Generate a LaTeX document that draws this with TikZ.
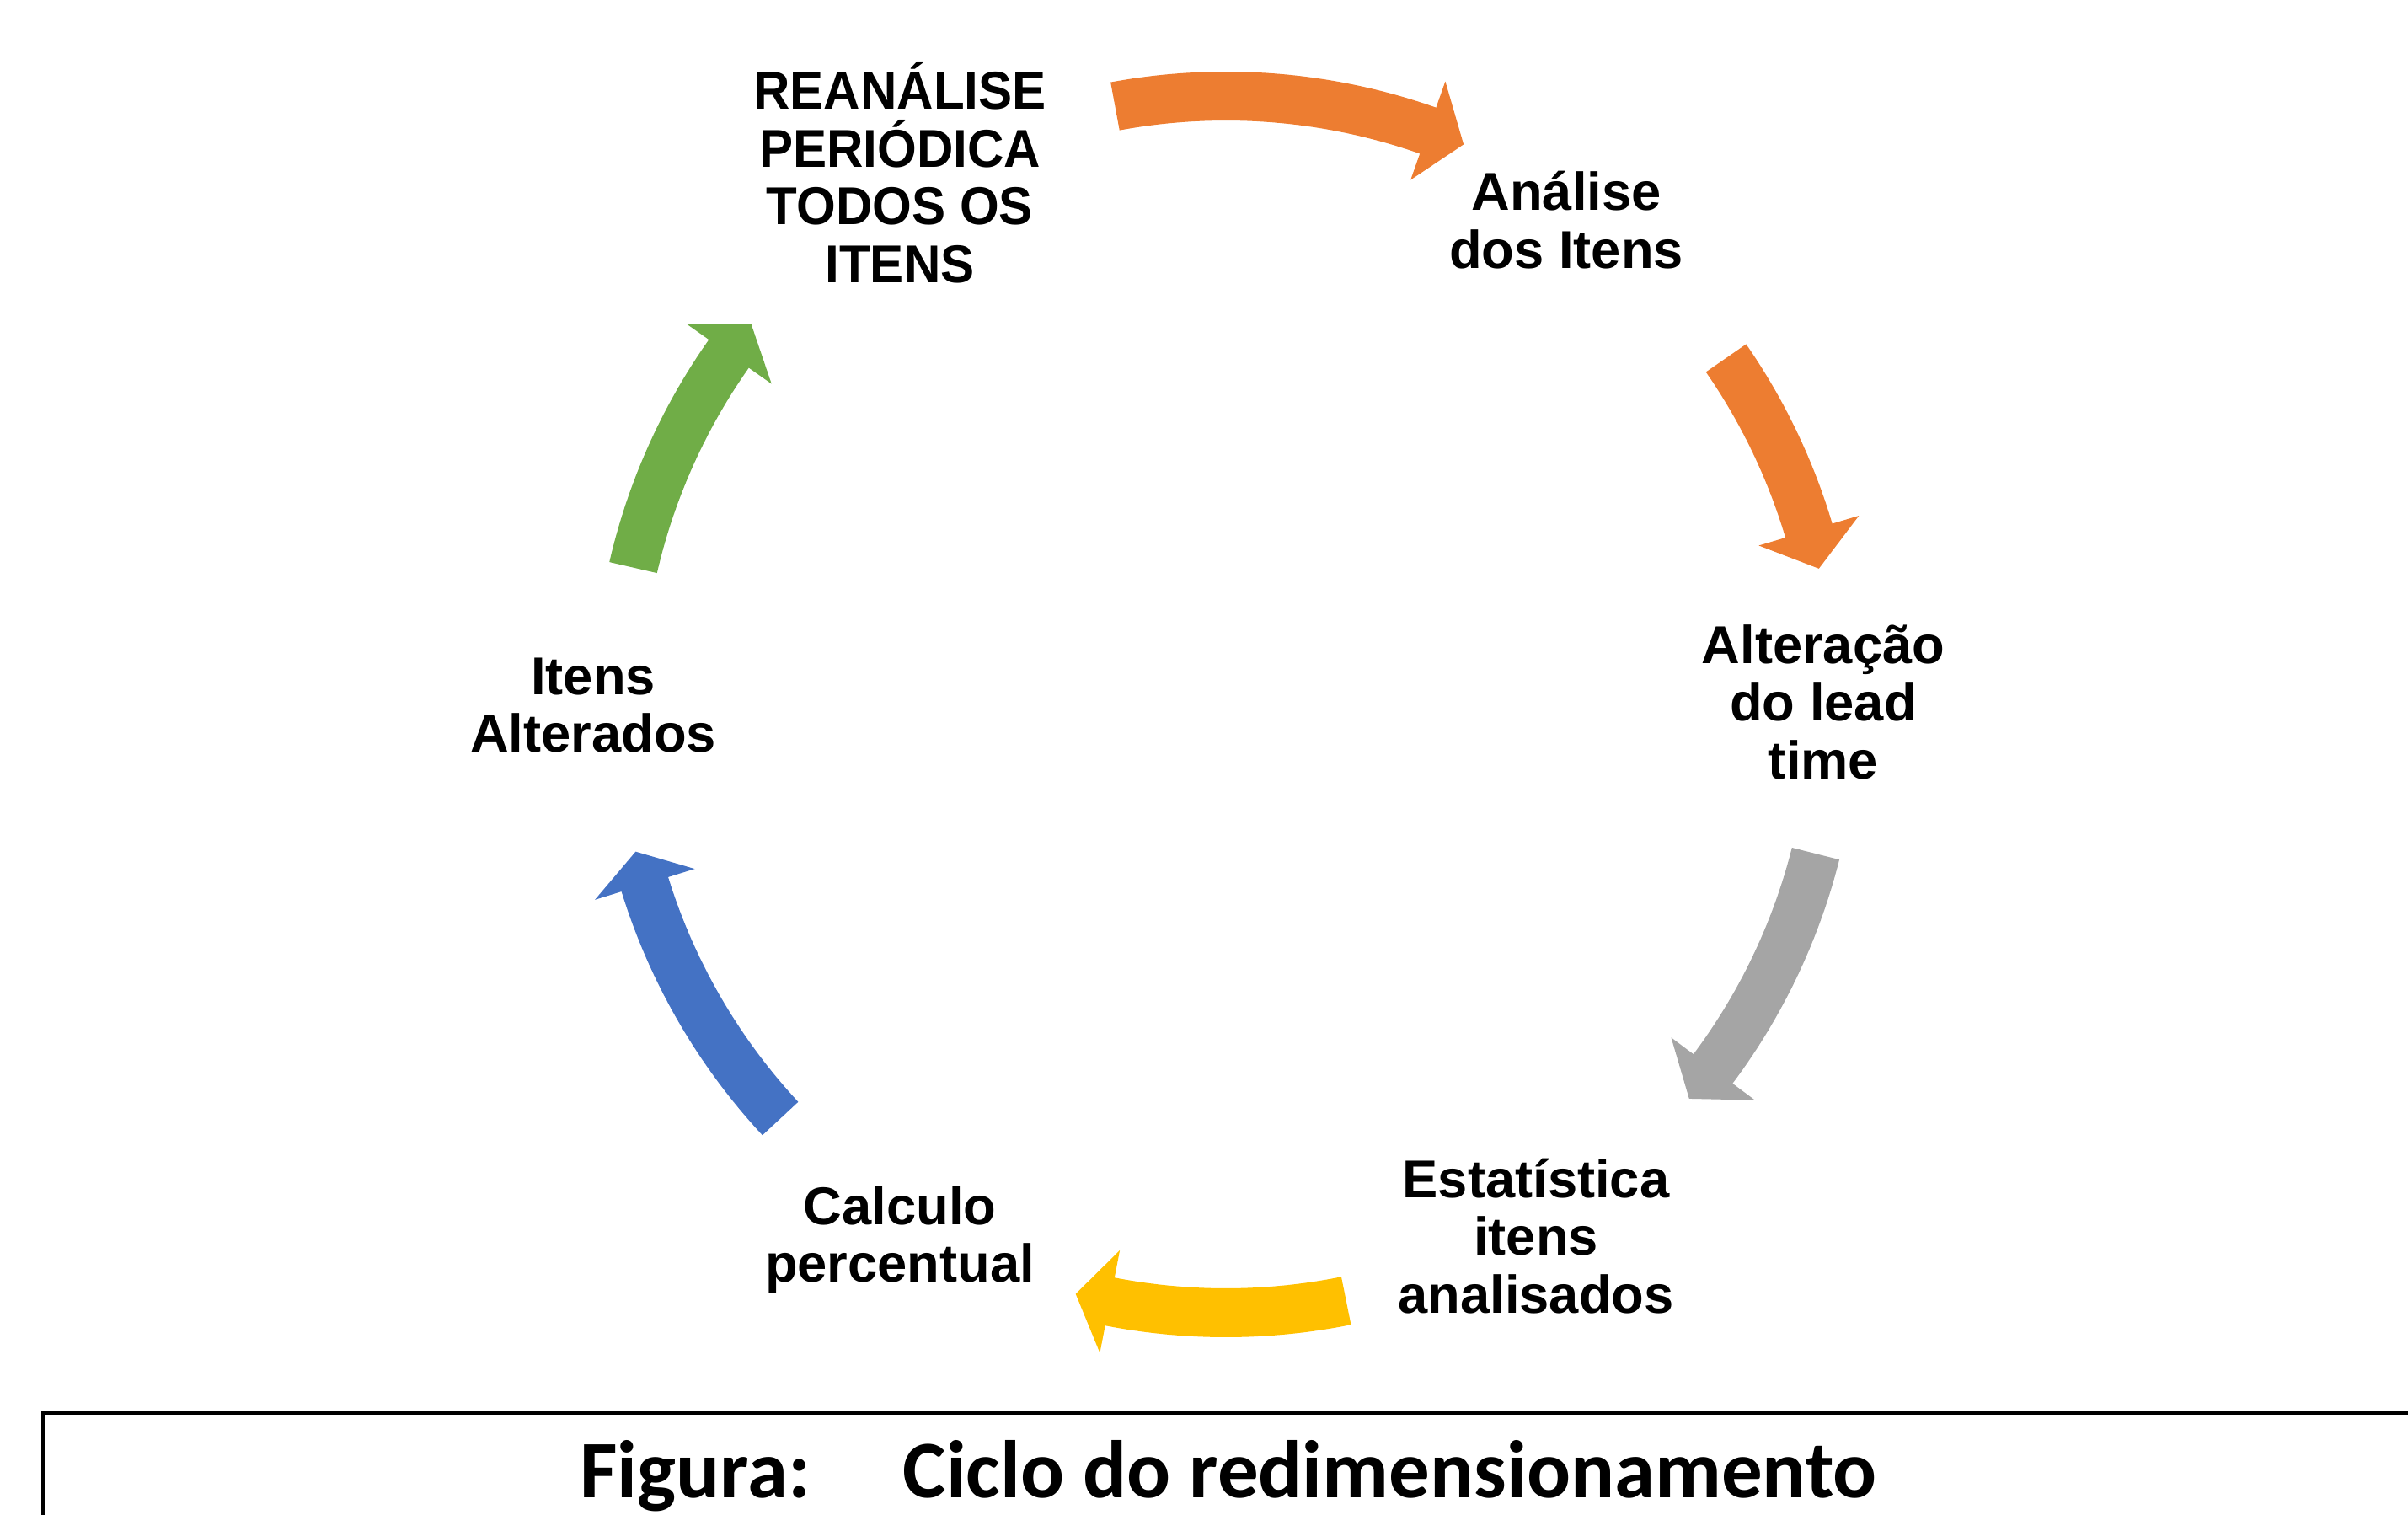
\documentclass[tikz,border=0pt]{standalone}
\usepackage{fontspec}
\newfontfamily\rotfont{Liberation Sans}
\newfontfamily\capfont{Carlito}
\usetikzlibrary{calc}

\definecolor{laranja}{HTML}{ED7D31}
\definecolor{cinza}{HTML}{A5A5A5}
\definecolor{amarelo}{HTML}{FFC000}
\definecolor{azul}{HTML}{4472C4}
\definecolor{verde}{HTML}{70AD47}

\begin{document}
\begin{tikzpicture}[
    rotulo/.style={align=center, inner sep=0pt, font=\rotfont\bfseries\fontsize{18}{19.5}\selectfont},
    legenda/.style={anchor=base, inner sep=0pt, font=\capfont\bfseries\fontsize{27.6}{32}\selectfont}]
    \useasboundingbox (0,0) rectangle (28.58,17.97);

    \coordinate (C) at (14.55,9.61);
    \coordinate (T0) at (10.68,15.92);
    \coordinate (T1) at (18.59,15.36);
    \coordinate (T2) at (21.64,9.64);
    \coordinate (T3) at (18.23,3.30);
    \coordinate (T4) at (10.68,3.26);
    \coordinate (T5) at (7.04,9.60);
    \coordinate (F0) at (14.58,0.20);
    \coordinate (B0) at (0.51,-0.10);
    \coordinate (B1) at (0.51,1.20);
    \coordinate (B2) at (28.70,1.20);

    \fill[laranja, shift={(C)}] (100.5:7.51) arc[start angle=100.5, end angle=70.6, radius=7.51]
        -- (70.6:7.84) -- (67:7.22) -- (70.6:6.60) -- (70.6:6.93)
        arc[start angle=70.6, end angle=100.5, radius=6.93] -- cycle;
    \fill[laranja, shift={(C)}] (34.7:7.51) arc[start angle=34.7, end angle=16.6, radius=7.51]
        -- (16.6:7.84) -- (12.9:7.22) -- (16.6:6.60) -- (16.6:6.93)
        arc[start angle=16.6, end angle=34.7, radius=6.93] -- cycle;
    \fill[cinza, shift={(C)}] (-14.2:7.51) arc[start angle=-14.2, end angle=-36.8, radius=7.51]
        -- (-36.8:7.84) -- (-40.4:7.22) -- (-36.8:6.60) -- (-36.8:6.93)
        arc[start angle=-36.8, end angle=-14.2, radius=6.93] -- cycle;
    \fill[amarelo, shift={(C)}] (-78.6:7.51) arc[start angle=-78.6, end angle=-101, radius=7.51]
        -- (-101:7.84) -- (-104.3:7.22) -- (-101:6.60) -- (-101:6.93)
        arc[start angle=-101, end angle=-78.6, radius=6.93] -- cycle;
    \fill[azul, shift={(C)}] (-137.1:7.51) arc[start angle=-137.1, end angle=-162.8, radius=7.51]
        -- (-162.8:7.84) -- (-166:7.22) -- (-162.8:6.60) -- (-162.8:6.93)
        arc[start angle=-162.8, end angle=-137.1, radius=6.93] -- cycle;
    \fill[verde, shift={(C)}] (167:7.51) arc[start angle=167, end angle=144.8, radius=7.51]
        -- (144.8:7.84) -- (141.3:7.22) -- (144.8:6.60) -- (144.8:6.93)
        arc[start angle=144.8, end angle=167, radius=6.93] -- cycle;

    \node[rotulo, xscale=0.95] (reanalise) at (T0) {REANÁLISE\\PERIÓDICA\\TODOS OS\\ITENS};
    \node[rotulo] (analise) at (T1) {Análise\\dos Itens};
    \node[rotulo] (alteracao) at (T2) {Alteração\\do lead\\time};
    \node[rotulo] (estatistica) at (T3) {Estatística\\itens\\analisados};
    \node[rotulo] (calculo) at (T4) {Calculo\\percentual};
    \node[rotulo] (alterados) at (T5) {Itens\\Alterados};

    \draw[line width=1.4pt] (B0) -- (B1) -- (B2);
    \node[legenda] (figura) at (F0) {Figura:\hspace{1.1cm}Ciclo do redimensionamento};
\end{tikzpicture}
\end{document}
